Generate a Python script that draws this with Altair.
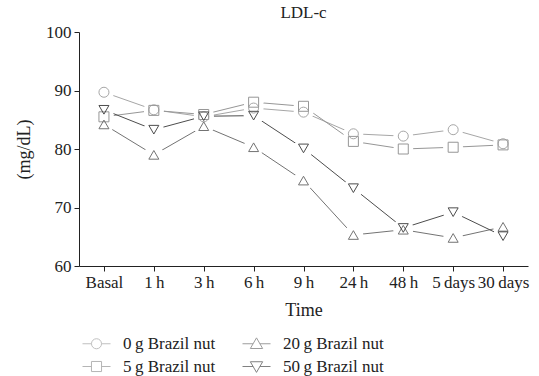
import altair as alt
import pandas as pd

# LDL-c over time for four Brazil nut doses
times = ["Basal", "1\u2009h", "3\u2009h", "6\u2009h", "9\u2009h", "24\u2009h", "48\u2009h",
         "5\u2009days", "30\u2009days"]
doses = ["0\u2009g Brazil nut", "5\u2009g Brazil nut", "20\u2009g Brazil nut", "50\u2009g Brazil nut"]
ldl_0g = [89.7, 86.7, 85.5, 87.0, 86.3, 82.6, 82.2, 83.3, 80.9]
ldl_5g = [85.5, 86.6, 85.9, 88.0, 87.3, 81.3, 80.0, 80.3, 80.7]
ldl_20g = [84.2, 79.0, 83.9, 80.3, 74.6, 65.3, 66.2, 64.8, 66.7]
ldl_50g = [86.7, 83.3, 85.6, 85.7, 80.1, 73.3, 66.5, 69.2, 65.1]

series = [ldl_0g, ldl_5g, ldl_20g, ldl_50g]
rows = []
for dose, vals in zip(doses, series):
    for t, v in zip(times, vals):
        rows.append({"time": t, "dose": dose, "ldl": v})
df = pd.DataFrame(rows)

colors = ["#a6a6a6", "#969696", "#737373", "#4d4d4d"]
shapes = ["circle", "square", "triangle-up", "triangle-down"]
sizes = [100, 100, 130, 130]
# legend glyphs: a short line broken by the marker outline
legend_shapes = [
    "M-1,0H-0.36M0.36,0H1M0.36,0A0.36,0.36 0 1 1 -0.36,0A0.36,0.36 0 1 1 0.36,0",
    "M-1,0H-0.36M0.36,0H1M-0.36,-0.36H0.36V0.36H-0.36Z",
    "M-1,0H-0.24M0.24,0H1M0,-0.42L0.44,0.34L-0.44,0.34Z",
    "M-1,0H-0.24M0.24,0H1M0,0.42L0.44,-0.34L-0.44,-0.34Z",
]
# legend fills column by column: 0 g / 5 g on the left, 20 g / 50 g on the right
legend_order = [0, 2, 1, 3]
legend_doses = [doses[i] for i in legend_order]
legend_colors = [colors[i] for i in legend_order]
legend_glyphs = [legend_shapes[i] for i in legend_order]

FONT = "Liberation Serif"

x_enc = alt.X("time:N", sort=times, title="Time",
              scale=alt.Scale(type="point", padding=0.5),
              axis=alt.Axis(labelAngle=0, titlePadding=11, labelOverlap=False))
y_enc = alt.Y("ldl:Q", title="(mg/dL)",
              scale=alt.Scale(domain=[60, 100], nice=False, zero=False),
              axis=alt.Axis(values=[60, 70, 80, 90, 100], titlePadding=12))

color_plain = alt.Color("dose:N", sort=doses, legend=None,
                        scale=alt.Scale(domain=doses, range=colors))
shape_plain = alt.Shape("dose:N", sort=doses, legend=None,
                        scale=alt.Scale(domain=doses, range=shapes))
size_enc = alt.Size("dose:N", sort=doses, legend=None,
                    scale=alt.Scale(domain=doses, range=sizes))

base = alt.Chart(df)

lines = base.mark_line(strokeWidth=1).encode(
    x=x_enc, y=y_enc, color=color_plain, detail="dose:N"
)

# white discs cut the connecting lines short of each marker
backing = base.mark_point(filled=True, color="white", opacity=1, size=400,
                          shape="circle").encode(x=x_enc, y=y_enc)

markers = base.mark_point(filled=False, strokeWidth=1, opacity=1).encode(
    x=x_enc, y=y_enc, color=color_plain, shape=shape_plain, size=size_enc
)

legend_def = alt.Legend(
    title=None, orient="none", legendX=3, legendY=297, columns=2,
    direction="horizontal", symbolSize=784, symbolStrokeWidth=1,
    symbolFillColor="transparent", labelFont=FONT, labelFontSize=17,
    labelColor="#222222", labelOffset=12, columnPadding=24,
    rowPadding=-5, padding=0,
)
legend_layer = base.mark_point(filled=False, strokeWidth=1).encode(
    x=x_enc, y=y_enc,
    color=alt.Color("dose:N", sort=legend_doses, legend=legend_def,
                    scale=alt.Scale(domain=legend_doses, range=legend_colors)),
    shape=alt.Shape("dose:N", sort=legend_doses, legend=legend_def,
                    scale=alt.Scale(domain=legend_doses, range=legend_glyphs)),
).transform_filter("false")

chart = (
    alt.layer(lines, backing, markers, legend_layer)
    .resolve_scale(color="independent", shape="independent")
    .properties(
        width=449, height=234,
        title=alt.TitleParams("LDL-c", font=FONT, fontSize=17,
                              fontWeight="normal", color="#222222", offset=1),
        autosize=alt.AutoSizeParams(type="none"),
        padding={"left": 79, "top": 32, "right": 11, "bottom": 110},
    )
    .configure(font=FONT, background="white")
    .configure_view(stroke=None)
    .configure_title(font=FONT, fontSize=17, fontWeight="normal", color="#222222")
    .configure_legend(labelFont=FONT, labelFontSize=17, labelColor="#222222")
    .configure_axis(
        grid=False, domainColor="#222222", tickColor="#222222",
        tickSize=5, labelFont=FONT, labelFontSize=17, labelColor="#222222",
        titleFont=FONT, titleFontSize=18, titleFontWeight="normal",
        titleColor="#222222", labelPadding=3,
    )
)

chart.save("out.html", embed_options={"renderer": "svg", "actions": False})
